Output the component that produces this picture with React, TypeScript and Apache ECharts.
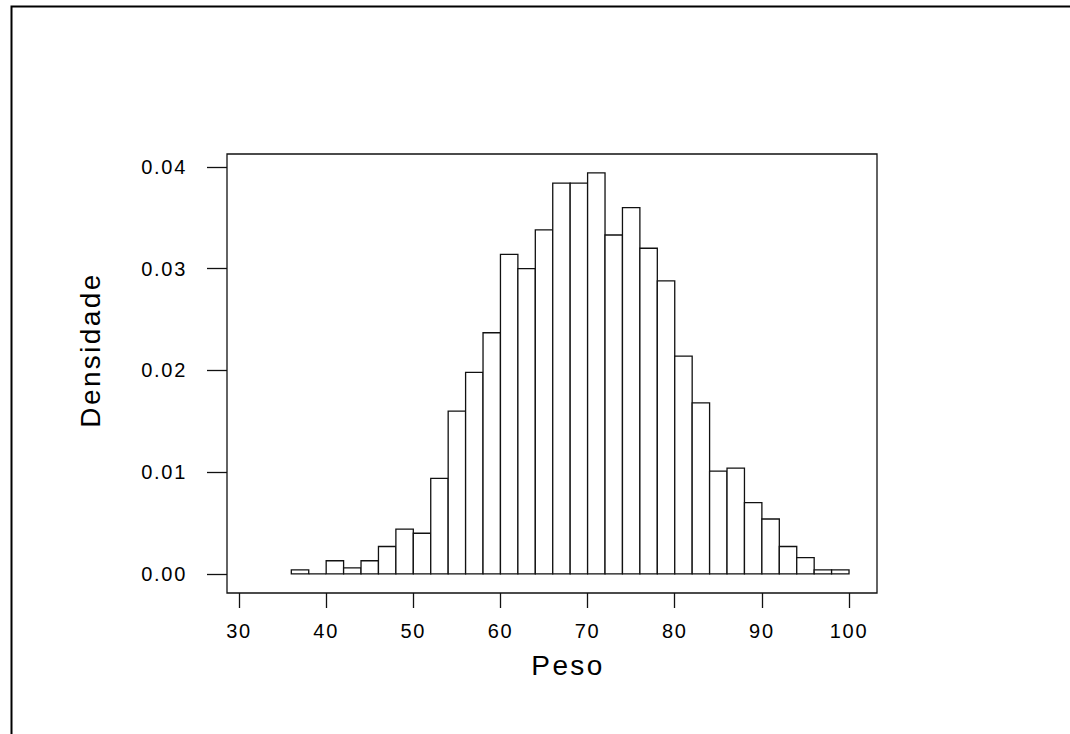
import React, { useEffect, useRef } from "react";
import * as echarts from "echarts";

// Histogram data: bin starts (width 2) and density per bin
const BIN_WIDTH = 2;
const binStarts = [36, 38, 40, 42, 44, 46, 48, 50, 52, 54, 56, 58, 60, 62, 64, 66, 68, 70, 72, 74, 76, 78, 80, 82, 84, 86, 88, 90, 92, 94, 96, 98];
const densities = [0.0004, 0.0, 0.0013, 0.0006, 0.0013, 0.0027, 0.0044, 0.004, 0.0094, 0.016, 0.0198, 0.0237, 0.0314, 0.03, 0.0338, 0.0384, 0.0384, 0.0394, 0.0333, 0.036, 0.032, 0.0288, 0.0214, 0.0168, 0.0101, 0.0104, 0.007, 0.0054, 0.0027, 0.0016, 0.0004, 0.0004];

const xTicks = [30, 40, 50, 60, 70, 80, 90, 100];
const yTicks = [0, 0.01, 0.02, 0.03, 0.04];
const X_MIN = 28.62;
const X_MAX = 103.21;
const Y_MIN = -0.00187;
const Y_MAX = 0.04126;

const xTitle = "Peso";
const yTitle = "Densidade";

const FONT = "'Liberation Sans', Arial, Helvetica, sans-serif";
const INK = "#111";

export default function App() {
  const ref = useRef<HTMLDivElement>(null);
  useEffect(() => {
    if (!ref.current) return;
    const chart = echarts.init(ref.current, null, { renderer: "svg" });
    const data = binStarts.map((b, i) => [b, b + BIN_WIDTH, densities[i]]);
    chart.setOption({
      animation: false,
      backgroundColor: "#fff",
      grid: {
        left: 227,
        top: 154,
        width: 650,
        height: 439,
        show: true,
        borderColor: INK,
        borderWidth: 1.3,
        backgroundColor: "transparent",
      },
      xAxis: {
        type: "value",
        min: X_MIN,
        max: X_MAX,
        splitLine: { show: false },
        axisLine: { show: false, onZero: false },
        axisTick: {
          show: true,
          inside: false,
          length: 15,
          customValues: xTicks,
          lineStyle: { color: INK, width: 1.3 },
        },
        axisLabel: {
          customValues: xTicks,
          fontSize: 20,
          fontFamily: FONT,
          color: "#000",
          margin: 28,
          formatter: (v: number) => String(v),
        },
      },
      yAxis: {
        type: "value",
        min: Y_MIN,
        max: Y_MAX,
        splitLine: { show: false },
        axisLine: { show: false, onZero: false },
        axisTick: {
          show: true,
          inside: false,
          length: 20,
          customValues: yTicks,
          lineStyle: { color: INK, width: 1.3 },
        },
        axisLabel: {
          customValues: yTicks,
          fontSize: 20,
          fontFamily: FONT,
          color: "#000",
          margin: 40,
          formatter: (v: number) => v.toFixed(2),
        },
      },
      series: [
        {
          type: "custom",
          data,
          encode: { x: [0, 1], y: 2 },
          renderItem: (params: any, api: any) => {
            const x0 = api.value(0);
            const x1 = api.value(1);
            const y = api.value(2);
            const p0 = api.coord([x0, y]);
            const p1 = api.coord([x1, 0]);
            return {
              type: "rect",
              shape: { x: p0[0], y: p0[1], width: p1[0] - p0[0], height: p1[1] - p0[1] },
              style: { fill: "#fff", stroke: INK, lineWidth: 1.3 },
            };
          },
        },
      ],
      graphic: [
        {
          type: "rect",
          shape: { x: 11.5, y: 6.5, width: 1200, height: 900 },
          style: { fill: "none", stroke: "#000", lineWidth: 2 },
          silent: true,
        },
        {
          type: "text",
          x: 568,
          y: 665,
          style: {
            text: xTitle,
            fontSize: 28,
            fontFamily: FONT,
            fill: "#000",
            align: "center",
            verticalAlign: "middle",
          },
        },
        {
          type: "text",
          x: 90,
          y: 350,
          rotation: Math.PI / 2,
          style: {
            text: yTitle,
            fontSize: 28,
            fontFamily: FONT,
            fill: "#000",
            align: "center",
            verticalAlign: "middle",
          },
        },
      ],
    });
    return () => chart.dispose();
  }, []);
  return (
    <>
      <style>{"svg text { letter-spacing: 0.085em; }"}</style>
      <div
        ref={ref}
        style={{ position: "absolute", left: 0, top: 0, width: 1070, height: 734 }}
      />
    </>
  );
}
